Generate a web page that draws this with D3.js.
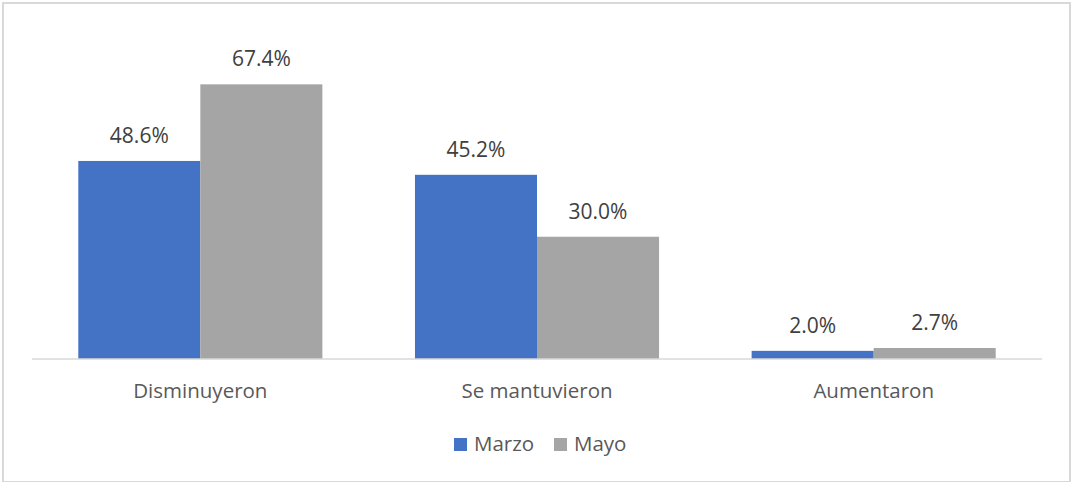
<!DOCTYPE html>
<html><head><meta charset="utf-8">
<script src="https://cdn.jsdelivr.net/npm/d3@7"></script>
<style>body{margin:0;background:#fff;}svg{display:block;font-family:"Open Sans",sans-serif;}</style>
</head><body>
<script>
const categories = ["Disminuyeron", "Se mantuvieron", "Aumentaron"];
const seriesNames = ["Marzo", "Mayo"];
const marzo = [48.6, 45.2, 2.0];
const mayo = [67.4, 30.0, 2.7];
const colors = ["#4472C4", "#A5A5A5"];

const W = 1071, H = 482;
const svg = d3.select("body").append("svg").attr("width", W).attr("height", H);
svg.append("rect").attr("x", 3).attr("y", 3).attr("width", 1067).attr("height", 479)
  .attr("fill", "#fff").attr("stroke", "#D9D9D9").attr("stroke-width", 2);

const left = 32, right = 1042, base = 359;
const x0 = d3.scaleBand().domain(categories).range([left, right]).paddingInner(0.275).paddingOuter(0.1375);
const x1 = d3.scaleBand().domain(seriesNames).range([0, x0.bandwidth()]);
const y = d3.scaleLinear().domain([0, 80]).range([base, 33]);

const data = categories.map((c, i) => ({cat: c, vals: [marzo[i], mayo[i]]}));

const g = svg.append("g");
const groups = g.selectAll("g.grp").data(data).join("g").attr("class", "grp")
  .attr("transform", d => `translate(${x0(d.cat)},0)`);
groups.selectAll("rect").data(d => d.vals.map((v, j) => ({s: seriesNames[j], v, j})))
  .join("rect")
  .attr("x", d => x1(d.s)).attr("width", x1.bandwidth())
  .attr("y", d => y(d.v)).attr("height", d => base - y(d.v))
  .attr("fill", d => colors[d.j]);
groups.selectAll("text").data(d => d.vals.map((v, j) => ({s: seriesNames[j], v, j})))
  .join("text")
  .attr("x", d => x1(d.s) + x1.bandwidth() / 2).attr("y", d => y(d.v) - 18)
  .attr("text-anchor", "middle").attr("font-size", 21).attr("fill", "#404040")
  .text(d => d.v.toFixed(1) + "%");

const xAxis = svg.append("g").attr("transform", `translate(0,${base})`)
  .call(d3.axisBottom(x0).tickSize(0).tickPadding(0).tickSizeOuter(0));
xAxis.select(".domain").attr("stroke", "#D9D9D9").attr("stroke-width", 1.5).attr("d", `M${left},0H${right}`);
xAxis.selectAll("text").attr("font-size", 20.5).attr("fill", "#595959").attr("dy", null).attr("y", 39)
  .attr("font-family", "Open Sans");

const legend = svg.append("g");
const lx = [454, 554];
seriesNames.forEach((s, j) => {
  legend.append("rect").attr("x", lx[j]).attr("y", 438).attr("width", 13).attr("height", 13).attr("fill", colors[j]);
  legend.append("text").attr("x", lx[j] + 20).attr("y", 451).attr("font-size", 20.5).attr("fill", "#595959").text(s);
});
</script>
</body></html>
